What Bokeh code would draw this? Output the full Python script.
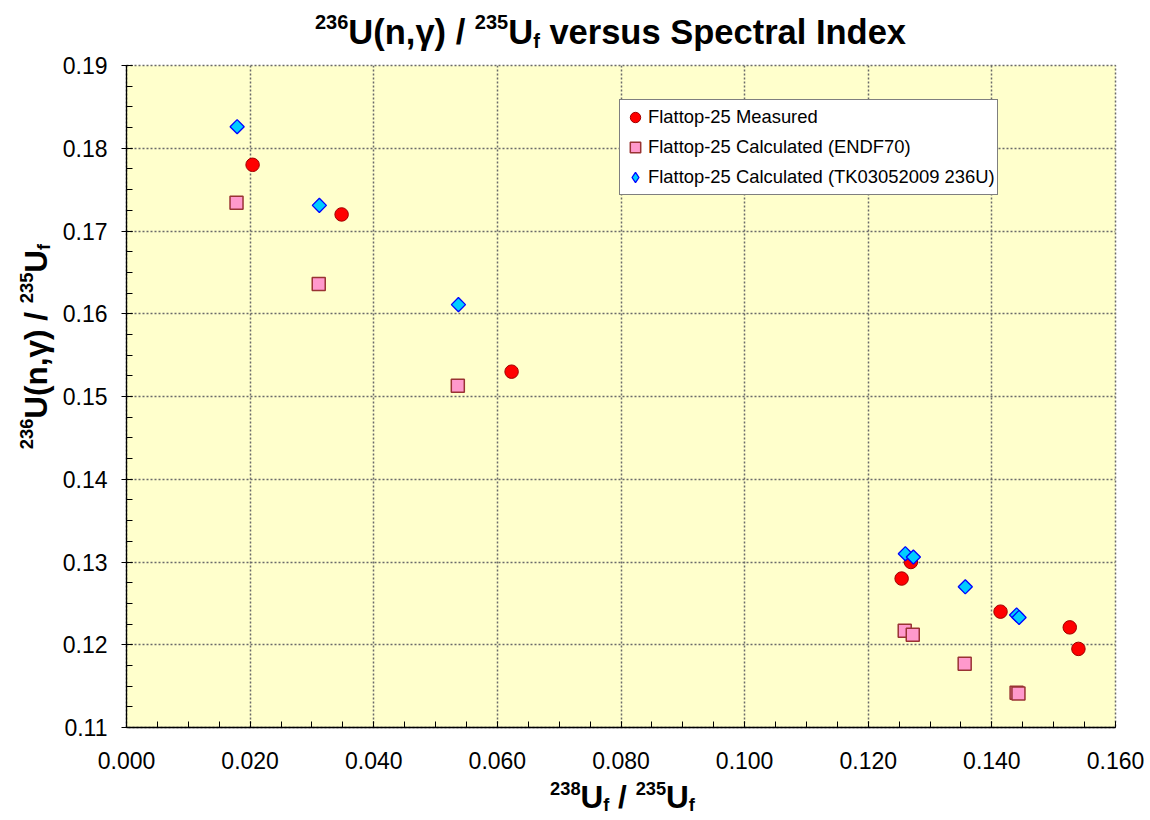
import math
from bokeh.plotting import figure
from bokeh.layouts import column, row
from bokeh.models import Label, Legend, LegendItem, Range1d, FixedTicker, NumeralTickFormatter
from bokeh.embed import file_html
from bokeh.resources import INLINE

# ---------------- data ----------------
meas_x = [0.0204, 0.0348, 0.0623, 0.1254, 0.1269, 0.1414, 0.1526, 0.1540]
meas_y = [0.1780, 0.1720, 0.1530, 0.1280, 0.1300, 0.1240, 0.1221, 0.1195]
endf_x = [0.0178, 0.0311, 0.0536, 0.1259, 0.1272, 0.1356, 0.1440, 0.1443]
endf_y = [0.1734, 0.1636, 0.1513, 0.1217, 0.1212, 0.1177, 0.1142, 0.1141]
tk_x = [0.0179, 0.0312, 0.0537, 0.1260, 0.1273, 0.1357, 0.1440, 0.1444]
tk_y = [0.1826, 0.1731, 0.1611, 0.1310, 0.1306, 0.1270, 0.1236, 0.1233]

x_ticks = [0.00, 0.02, 0.04, 0.06, 0.08, 0.10, 0.12, 0.14, 0.16]
x_minor = [i * 0.005 for i in range(33)]
y_ticks = [0.11, 0.12, 0.13, 0.14, 0.15, 0.16, 0.17, 0.18, 0.19]
y_minor = [0.11 + i * 0.0025 for i in range(33)]

series_names = ["Flattop-25 Measured",
                "Flattop-25 Calculated (ENDF70)",
                "Flattop-25 Calculated (TK03052009 236U)"]

# ---------------- layout sizes ----------------
TOTAL_W = 1150
TITLE_H = 53
YLAB_W = 55
MAIN_W, MAIN_H = TOTAL_W - YLAB_W, 725
XLAB_H = 42

# ---------------- main plot ----------------
p = figure(width=MAIN_W, height=MAIN_H, output_backend="svg", toolbar_location=None,
           x_range=Range1d(0.0, 0.16), y_range=Range1d(0.11, 0.19),
           min_border_left=71, min_border_right=35, min_border_top=12, min_border_bottom=51)
p.background_fill_color = "#FFFFCC"
p.border_fill_color = "white"
p.outline_line_color = "#6a6a6a"
p.outline_line_dash = "2 2"
p.outline_line_width = 1.5

p.xaxis.ticker = FixedTicker(ticks=x_ticks, minor_ticks=x_minor)
p.yaxis.ticker = FixedTicker(ticks=y_ticks, minor_ticks=y_minor)
p.xaxis.formatter = NumeralTickFormatter(format="0.000")
p.yaxis.formatter = NumeralTickFormatter(format="0.00")

for ax in (p.xaxis[0], p.yaxis[0]):
    ax.axis_line_color = "black"
    ax.axis_line_width = 1.3
    ax.major_tick_line_color = "black"
    ax.minor_tick_line_color = "black"
    ax.major_tick_in = 6
    ax.minor_tick_in = 6
    ax.minor_tick_out = 0
    ax.major_label_text_font = "Liberation Sans"
    ax.major_label_text_font_size = "23px"
    ax.major_label_text_color = "black"
p.xaxis.major_tick_out = 0
p.yaxis.major_tick_out = 5
p.xaxis.major_label_standoff = 24
p.yaxis.major_label_standoff = 14

for g in (p.xgrid[0], p.ygrid[0]):
    g.grid_line_color = "#6a6a6a"
    g.grid_line_dash = "2 2"
    g.grid_line_width = 1.5

CIRC = dict(marker="circle", fill_color="#FF0000", line_color="#A00000", line_width=1)
SQR = dict(marker="square", fill_color="#FF99CC", line_color="#993333", line_width=1.5)
DIA = dict(fill_color="#00CCFF", line_color="#0000FF", line_width=1.3)

r1 = p.scatter(meas_x, meas_y, size=13.5, **CIRC)
r2 = p.scatter(endf_x, endf_y, size=13, **SQR)
r3 = p.scatter(tk_x, tk_y, marker="square", angle=math.pi / 4, size=10, **DIA)
# legend-only swatch for the diamond series (legend glyphs ignore marker angle)
r3_key = p.scatter([float("nan")], [float("nan")], marker="diamond", size=10, **DIA)

legend = Legend(items=[LegendItem(label=series_names[0], renderers=[r1]),
                       LegendItem(label=series_names[1], renderers=[r2]),
                       LegendItem(label=series_names[2], renderers=[r3_key])],
                location=(493, 532))
legend.label_text_font = "Liberation Sans"
legend.label_text_font_size = "18.4px"
legend.label_text_color = "black"
legend.border_line_color = "black"
legend.border_line_width = 1
legend.background_fill_color = "white"
legend.background_fill_alpha = 1.0
legend.padding = 2
legend.margin = 0
legend.spacing = -1
legend.glyph_width = 26
legend.glyph_height = 30
legend.label_height = 20
legend.label_standoff = 0
p.add_layout(legend)


# ---------------- text panels (title / axis titles with super/subscripts) ----------------
def text_panel(w, h):
    f = figure(width=w, height=h, output_backend="svg", toolbar_location=None,
               x_axis_type=None, y_axis_type=None, min_border=0,
               x_range=Range1d(0, 1), y_range=Range1d(0, 1))
    f.outline_line_color = None
    f.background_fill_color = "white"
    f.border_fill_color = "white"
    f.grid.visible = False
    return f


AW_BOLD = {' ': 278, '(': 333, ')': 333, ',': 278, '/': 278, 'U': 722, 'S': 667, 'I': 278,
           'n': 611, 'v': 556, 'e': 556, 'r': 389, 's': 556, 'u': 611, 'p': 611, 'c': 556,
           't': 333, 'a': 556, 'l': 278, 'd': 611, 'x': 556, 'f': 333, 'γ': 556}
FONT = "Liberation Sans"
SUP = 0.58
BASE_FIX = 0.38   # renderer places alphabetic text this fraction of the size low


def tw(s, size):
    return sum(AW_BOLD.get(ch, 556) for ch in s) / 1000.0 * size


def rich(fig, pieces, cx, cy, size, vertical=False, sup_raise=0.45):
    sizes = [size * (SUP if k != 'n' else 1.0) for _, k in pieces]
    widths = [tw(t, s) for (t, _), s in zip(pieces, sizes)]
    pos = (cy if vertical else cx) - sum(widths) / 2.0
    for (t, k), s, w in zip(pieces, sizes, widths):
        lead = tw(t[:len(t) - len(t.lstrip())], s)   # leading blanks are collapsed by SVG
        off = sup_raise * size if k == 'sup' else (-0.08 * size if k == 'sub' else 0.0)
        off += BASE_FIX * s
        if vertical:
            lab = Label(x=cx - off, y=pos + lead, angle=math.pi / 2, text=t.strip())
        else:
            lab = Label(x=pos + lead, y=cy + off, text=t.strip())
        lab.x_units = "screen"
        lab.y_units = "screen"
        lab.text_font = FONT
        lab.text_font_size = "%.1fpx" % s
        lab.text_font_style = "bold"
        lab.text_color = "black"
        lab.text_baseline = "alphabetic"
        lab.text_align = "left"
        fig.add_layout(lab)
        pos += w


title_pieces = [("236", 'sup'), ("U(n,γ) / ", 'n'), ("235", 'sup'), ("U", 'n'),
                ("f", 'sub'), (" versus Spectral Index", 'n')]
xlab_pieces = [("238", 'sup'), ("U", 'n'), ("f", 'sub'), (" / ", 'n'),
               ("235", 'sup'), ("U", 'n'), ("f", 'sub')]
ylab_pieces = [("236", 'sup'), ("U(n,γ) / ", 'n'), ("235", 'sup'), ("U", 'n'), ("f", 'sub')]

title_fig = text_panel(TOTAL_W, TITLE_H)
rich(title_fig, title_pieces, 610, TITLE_H - 45, 34.5)

ylab_fig = text_panel(YLAB_W, MAIN_H)
rich(ylab_fig, ylab_pieces, 47, MAIN_H - (397 - TITLE_H), 31.5, vertical=True)

xlab_fig = text_panel(TOTAL_W, XLAB_H)
rich(xlab_fig, xlab_pieces, 622, XLAB_H - 30, 31.5, sup_raise=0.42)

layout = column(title_fig, row(ylab_fig, p, spacing=0), xlab_fig, spacing=0)

open("out.html", "w").write(file_html(layout, INLINE))
